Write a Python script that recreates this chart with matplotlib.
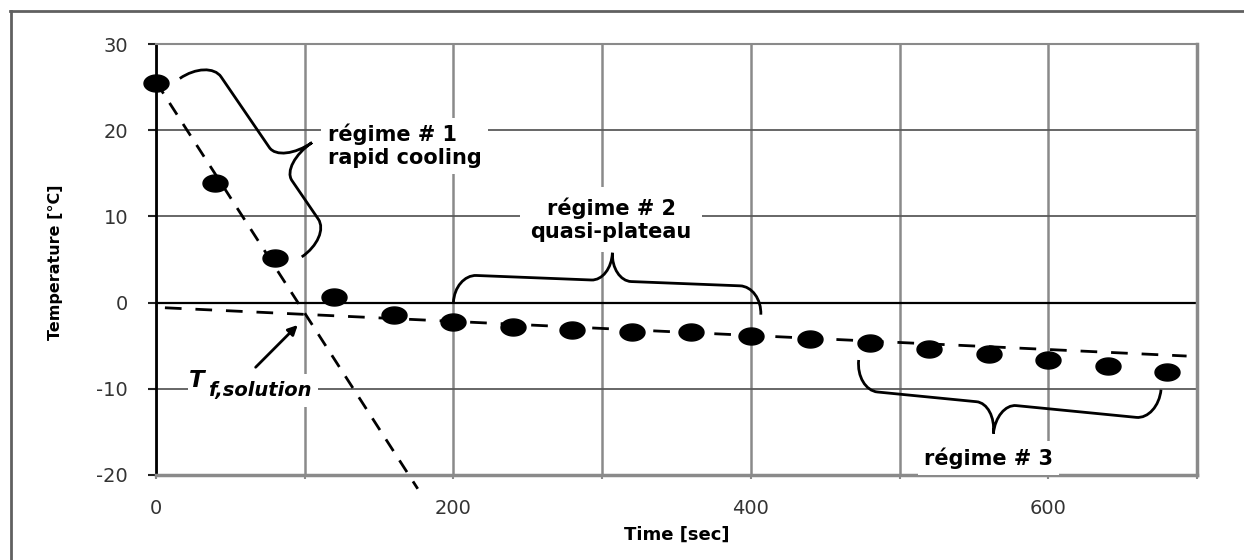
import numpy as np
import matplotlib
matplotlib.use('Agg')
import matplotlib.pyplot as plt
from matplotlib.path import Path
from matplotlib.patches import PathPatch
from matplotlib.transforms import IdentityTransform
from matplotlib.lines import Line2D
from matplotlib.markers import MarkerStyle

# ---------------- data ----------------
time_s = [0, 40, 80, 120, 160, 200, 240, 280, 320, 360, 400, 440, 480, 520, 560, 600, 640, 680]
temp_c = [25.5, 13.9, 5.2, 0.65, -1.4, -2.3, -2.8, -3.2, -3.4, -3.4, -3.9, -4.2, -4.7, -5.4, -6.0, -6.7, -7.4, -8.1]

# trend lines (end points)
steep_x = [0, 176]
steep_y = [25.6, -21.6]
shallow_x = [6, 693]
shallow_y = [-0.6, -6.2]

x_ticks = [0, 100, 200, 300, 400, 500, 600, 700]
x_ticklabels = ['0', '', '200', '', '400', '', '600', '']
y_ticks = [-20, -10, 0, 10, 20, 30]
y_ticklabels = ['-20', '-10', '0', '10', '20', '30']

W, H = 1244, 560
plt.rcParams['font.family'] = 'DejaVu Sans'
fig = plt.figure(figsize=(W / 100, H / 100), dpi=100)
ax = fig.add_axes([156 / W, 1 - 475 / H, (1197 - 156) / W, (475 - 44) / H])
ax.set_xlim(0, 700)
ax.set_ylim(-20, 30)

# grid
ax.set_xticks(x_ticks)
ax.set_xticklabels(x_ticklabels)
ax.set_yticks(y_ticks)
ax.set_yticklabels(y_ticklabels)
ax.grid(True, axis='x', color='#8a8a8a', lw=1.8, zorder=0)
ax.grid(True, axis='y', color='#5a5a5a', lw=1.3, zorder=0)
ax.set_axisbelow(True)
ax.axhline(0, color='black', lw=1.6, zorder=1)

ax.spines['top'].set_color('#8a8a8a'); ax.spines['top'].set_linewidth(1.5)
for s in ['right', 'bottom']:
    ax.spines[s].set_color('#8a8a8a'); ax.spines[s].set_linewidth(2.5)
ax.spines['left'].set_color('black'); ax.spines['left'].set_linewidth(2)

ax.tick_params(axis='y', length=6, width=1.5, color='#222222', pad=14,
               labelsize=14, labelcolor='#333333')
ax.tick_params(axis='x', length=3, width=1.5, color='#8a8a8a', pad=14,
               labelsize=14, labelcolor='#333333')

ax.set_xlabel('Time [sec]', fontsize=13, fontweight='bold')
ax.xaxis.set_label_coords(0.5, -0.118)
ax.set_ylabel('Temperature [°C]', fontsize=11.5, fontweight='bold')
ax.yaxis.set_label_coords(-0.089, 0.494)

# dashed trend lines
ax.plot(steep_x, steep_y, color='black', lw=2, dashes=(5, 4), clip_on=False, zorder=2)
ax.plot(shallow_x, shallow_y, color='black', lw=2, dashes=(6, 5), zorder=2)

# elliptical markers (reference is horizontally stretched)
t = np.linspace(0, 2 * np.pi, 60)
ell = Path(np.column_stack([np.cos(t), 0.68 * np.sin(t)]), closed=True)
ax.plot(time_s, temp_c, linestyle='none', marker=MarkerStyle(ell), markersize=18,
        color='black', zorder=4, clip_on=False)

# ---------------- braces ----------------
def brace(p1, p2, h1, h2, tfrac, sign=1, r_end=22, r_tip=20, k=0.55):
    a = ax.transData.transform(p1)
    b = ax.transData.transform(p2)
    v = b - a
    L = np.hypot(*v)
    d = v / L
    n = sign * np.array([-d[1], d[0]])
    tl = tfrac * L
    A1 = a + h1 * n + r_end * d
    B1 = a + (tl - r_tip) * d + h1 * n
    T = a + tl * d + h2 * n
    B2 = a + (tl + r_tip) * d + h1 * n
    A2 = a + (L - r_end) * d + h1 * n
    verts = [a, a + k * h1 * n, A1 - k * r_end * d, A1,
             B1,
             B1 + k * r_tip * d, T - k * (h2 - h1) * n, T,
             T - k * (h2 - h1) * n, B2 - k * r_tip * d, B2,
             A2,
             A2 + k * r_end * d, b + k * h1 * n, b]
    codes = [Path.MOVETO, Path.CURVE4, Path.CURVE4, Path.CURVE4,
             Path.LINETO,
             Path.CURVE4, Path.CURVE4, Path.CURVE4,
             Path.CURVE4, Path.CURVE4, Path.CURVE4,
             Path.LINETO,
             Path.CURVE4, Path.CURVE4, Path.CURVE4]
    patch = PathPatch(Path(verts, codes), fill=False, edgecolor='black', lw=2,
                      transform=IdentityTransform(), clip_on=False, zorder=6)
    fig.add_artist(patch)

brace((16, 26.0), (98, 5.3), h1=35, h2=73, tfrac=0.59, sign=1)
brace((200, 0.0), (406.7, -1.4), h1=28, h2=56, tfrac=0.51, sign=1)
brace((472.5, -6.66), (675.8, -10.1), h1=30, h2=60, tfrac=0.465, sign=-1)

# ---------------- annotations ----------------
box = dict(boxstyle='square,pad=0.3', fc='white', ec='none')
ax.text(115.4, 18.2, 'régime # 1\nrapid cooling', fontsize=15, fontweight='bold',
        ha='left', va='center', linespacing=1.15, bbox=box, zorder=5)
ax.text(306, 9.6, 'régime # 2\nquasi-plateau', fontsize=15, fontweight='bold',
        ha='center', va='center', multialignment='center', linespacing=1.15,
        bbox=dict(boxstyle='square,pad=0.5', fc='white', ec='none'), zorder=5)
ax.text(559.7, -18.0, 'régime # 3', fontsize=15, fontweight='bold',
        ha='center', va='center', bbox=box, zorder=5)

ax.text(35.0, -10.8, 'f,solution', fontsize=14, fontweight='bold', style='italic',
        ha='left', va='baseline', bbox=dict(boxstyle='square,pad=0.35', fc='white', ec='none'),
        zorder=5)
ax.text(22.0, -9.8, 'T', fontsize=16.5, fontweight='bold', style='italic',
        ha='left', va='baseline', bbox=dict(boxstyle='square,pad=0.05', fc='white', ec='none'),
        zorder=6)
ax.annotate('', xy=(95.3, -2.6), xytext=(67, -7.5),
            arrowprops=dict(arrowstyle='-|>', color='black', lw=2, mutation_scale=14,
                            shrinkA=0, shrinkB=0), zorder=6)

# outer frame of the picture
fig.add_artist(Line2D([10 / W, 1.0], [1 - 10.5 / H, 1 - 10.5 / H], transform=fig.transFigure,
                      color='#606060', lw=2))
fig.add_artist(Line2D([10.5 / W, 10.5 / W], [0, 1 - 10.5 / H], transform=fig.transFigure,
                      color='#606060', lw=2))

fig.savefig('out.png', dpi=100, facecolor='white')
